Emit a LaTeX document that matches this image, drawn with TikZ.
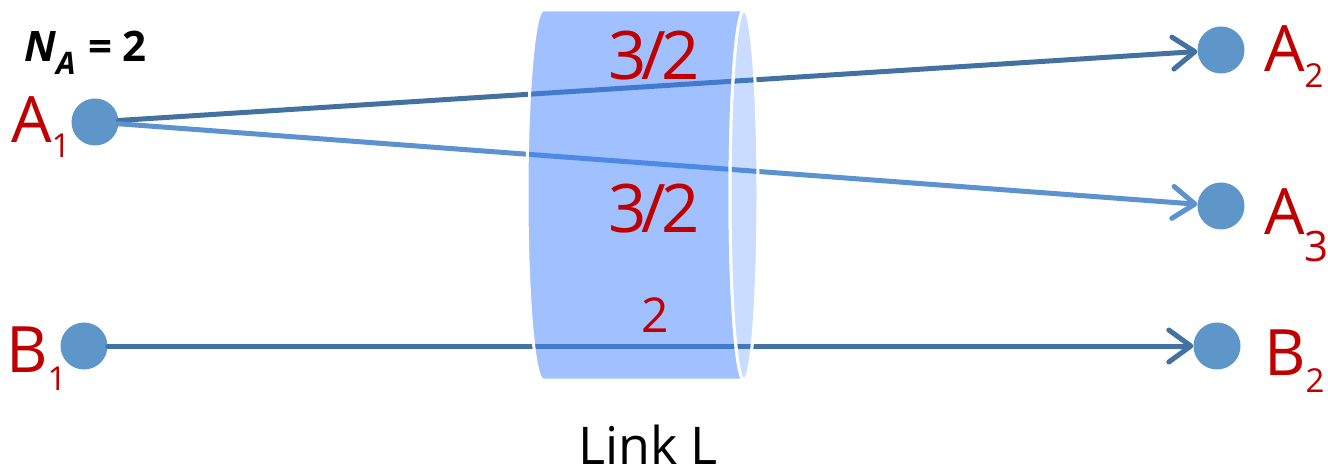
\documentclass[tikz,border=0pt]{standalone}
\usepackage{fontspec}
\setmainfont{Open Sans}
\usetikzlibrary{arrows.meta}
\definecolor{lkred}{HTML}{C00000}
\definecolor{lkdot}{HTML}{5E96CA}
\definecolor{lkdark}{HTML}{4472A0}
\definecolor{lklight}{HTML}{5B92CF}
\definecolor{lktube}{HTML}{4182FF}
% letter with a lowered index: letter, index, drop, index size
\newcommand{\idx}[4]{#1\raisebox{-#3}{\fontsize{#4}{#4}\selectfont #2}}
\tikzset{
  dot/.style={circle, fill=lkdot, minimum size=47pt, inner sep=0pt},
  lab/.style={text=lkred, font=\fontsize{64}{64}\selectfont, inner sep=0pt},
  arr/.style={-{Straight Barb[round, length=22pt, width=32pt]}, line width=5pt, line cap=round},
  tube/.style={draw=white, line width=3pt, fill=lktube},
}
\begin{document}
\begin{tikzpicture}[x=1pt,y=-1pt]
  \useasboundingbox (0,0) rectangle (1328,470);
  % end points
  \node[dot] (a1) at (95,122) {};
  \node[dot] (b1) at (84,346) {};
  \node[dot] (a2) at (1221,50) {};
  \node[dot] (a3) at (1221,206) {};
  \node[dot] (b2) at (1217,346) {};
  \node[lab, anchor=base west] (a1l) at (11,143) {\idx{A}{1}{15pt}{33}};
  \node[lab, anchor=base west] (b1l) at (6,372) {\idx{B}{1}{18pt}{33}};
  \node[lab, anchor=base west] (a2l) at (1264,72) {\idx{A}{2}{16pt}{33}};
  \node[lab, anchor=base west] (a3l) at (1264,235) {\idx{A}{3}{27pt}{42}};
  \node[lab, anchor=base west] (b2l) at (1264,375) {\idx{B}{2}{17pt}{33}};
  \node[anchor=base west, inner sep=0pt, font=\bfseries\fontsize{42}{42}\selectfont] (na) at (24,62)
    {\textit{N}\raisebox{-13pt}{\fontsize{31}{31}\selectfont\textit{A}}\hspace{13pt}=\hspace{10pt}2};
  % flows
  \draw[arr, lkdark] (a1) -- (a2);
  \draw[arr, lklight] (a1) -- (a3);
  \draw[arr, lkdark] (b1) -- (b2);
  % the link
  \path[tube, fill opacity=0.5] (543,10) -- (744,10)
    arc[start angle=90, end angle=270, x radius=14pt, y radius=185pt] -- (543,380)
    arc[start angle=270, end angle=90, x radius=16pt, y radius=185pt] -- cycle;
  \path[tube, fill opacity=0.28] (744,195) ellipse[x radius=14pt, y radius=185pt];
  \node[lab, anchor=base, font=\fontsize{67}{67}\selectfont] (r1) at (654,80) {3\kern-5pt/\kern-5pt2};
  \node[lab, anchor=base, font=\fontsize{67}{67}\selectfont] (r2) at (654,233) {3\kern-5pt/\kern-5pt2};
  \node[lab, anchor=base, font=\fontsize{48}{48}\selectfont] (r3) at (655,332) {2};
  \node[anchor=base, inner sep=0pt, font=\fontsize{52}{52}\selectfont] (lk) at (648,464) {Link L};
\end{tikzpicture}
\end{document}
